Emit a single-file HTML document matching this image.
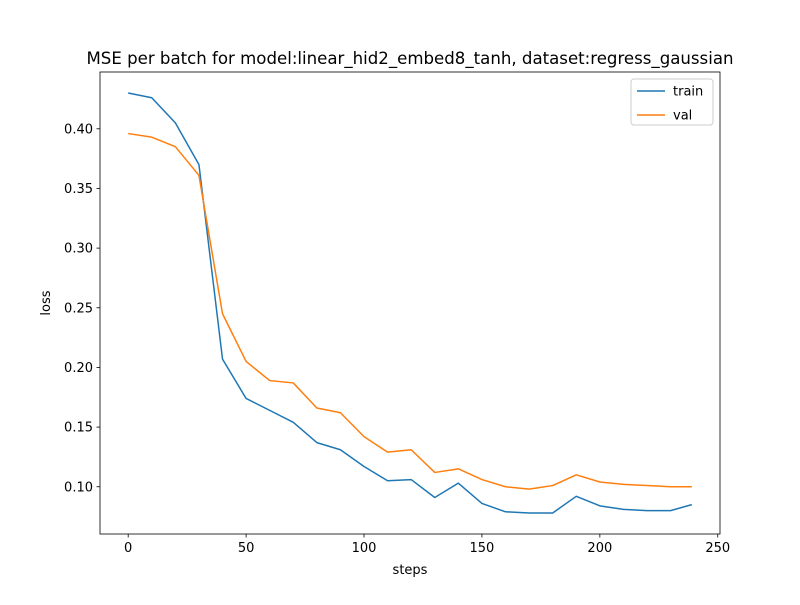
<!DOCTYPE html>
<html><head><meta charset="utf-8"><style>
body{margin:0;background:#fff;font-family:"Liberation Sans","DejaVu Sans",sans-serif}
svg text{font-family:"DejaVu Sans","Liberation Sans",sans-serif}
</style></head><body>
<svg id="c" width="800" height="600" xmlns="http://www.w3.org/2000/svg"></svg>
<script>
const steps=[0,10,20,30,40,50,60,70,80,90,100,110,120,130,140,150,160,170,180,190,200,210,220,230,239];
const trainLoss=[0.430,0.426,0.405,0.370,0.207,0.174,0.164,0.154,0.137,0.131,0.117,0.105,0.106,0.091,0.103,0.086,0.079,0.078,0.078,0.092,0.084,0.081,0.080,0.080,0.085];
const valLoss=[0.396,0.393,0.385,0.361,0.245,0.205,0.189,0.187,0.166,0.162,0.142,0.129,0.131,0.112,0.115,0.106,0.100,0.098,0.101,0.110,0.104,0.102,0.101,0.100,0.100];
const xTicks=[0,50,100,150,200,250];
const yTicks=[0.10,0.15,0.20,0.25,0.30,0.35,0.40];
const L=100,R=720,T=72,B=534;
const xmin0=Math.min(...steps),xmax0=Math.max(...steps),xm=(xmax0-xmin0)*0.05;
const all=trainLoss.concat(valLoss);
const ymin0=Math.min(...all),ymax0=Math.max(...all),ym=(ymax0-ymin0)*0.05;
const x0=xmin0-xm,x1=xmax0+xm,y0=ymin0-ym,y1=ymax0+ym;
const sx=v=>L+(v-x0)/(x1-x0)*(R-L);
const sy=v=>B-(v-y0)/(y1-y0)*(B-T);
const svg=document.getElementById('c');
const NS='http://www.w3.org/2000/svg';
function mk(tag,attrs,txt){const e=document.createElementNS(NS,tag);for(const k in attrs)e.setAttribute(k,attrs[k]);if(txt!=null)e.textContent=txt;svg.appendChild(e);return e;}
let e;
e=mk('text',{x:410,y:64,'text-anchor':'middle','font-size':16.6},'MSE per batch for model:linear_hid2_embed8_tanh, dataset:regress_gaussian');


xTicks.forEach(t=>{const x=sx(t);
 e=mk('line',{x1:x,x2:x,y1:B,y2:B+3.5,stroke:'#000','stroke-width':0.8});
 
 
 e=mk('text',{x:x,y:B+18,'text-anchor':'middle','font-size':13},String(t));
 
 
});
yTicks.forEach(t=>{const y=sy(t);
 e=mk('line',{x1:L-3.5,x2:L,y1:y,y2:y,stroke:'#000','stroke-width':0.8});
 
 
 e=mk('text',{x:L-7,y:y+4.5,'text-anchor':'end','font-size':13},t.toFixed(2));
 
 
});
e=mk('text',{x:410,y:574,'text-anchor':'middle','font-size':13},'steps');


e=mk('text',{x:50,y:303,'text-anchor':'middle','font-size':13,transform:'rotate(-90 50 303)'},'loss');


function line(vals,color,name){
 const d=vals.map((v,i)=>(i?'L':'M')+sx(steps[i]).toFixed(2)+' '+sy(v).toFixed(2)).join(' ');
 const p=mk('path',{d:d,fill:'none',stroke:color,'stroke-width':1.5,'stroke-linejoin':'round'});
 
 
}
line(trainLoss,'#1f77b4','train-line');
line(valLoss,'#ff7f0e','val-line');
e=mk('rect',{x:L,y:T,width:R-L,height:B-T,fill:'none',stroke:'#000','stroke-width':0.8});


e=mk('rect',{x:631,y:79,width:82,height:46,rx:3,fill:'#fff','fill-opacity':0.8,stroke:'#ccc','stroke-width':1});


[['train','#1f77b4',91],['val','#ff7f0e',115]].forEach(([n,c,y])=>{
 e=mk('line',{x1:637,x2:665,y1:y,y2:y,stroke:c,'stroke-width':1.5});
 
 
 e=mk('text',{x:673,y:y+4.5,'font-size':13},n);
 
 
});
</script>
</body></html>
